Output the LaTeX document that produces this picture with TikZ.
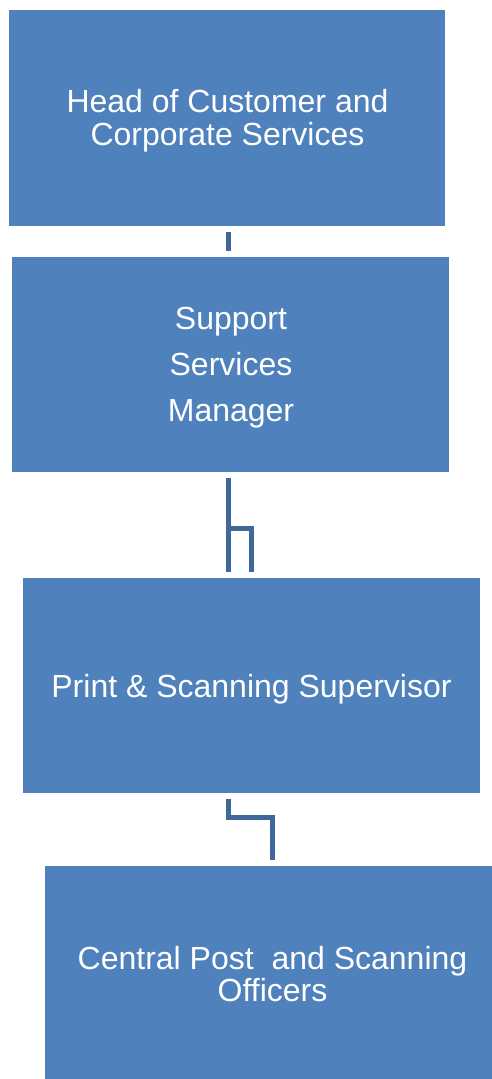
\documentclass[tikz,border=0pt]{standalone}
\usepackage{fontspec}
\setmainfont{Liberation Sans}
\usetikzlibrary{calc}
\definecolor{boxblue}{HTML}{4F81BD}
\definecolor{linkblue}{HTML}{41689A}
\tikzset{
  orgbox/.style={fill=boxblue, draw=none, inner sep=0pt},
  boxtext/.style={text=white, inner sep=0pt, align=center},
  link/.style={draw=linkblue, line width=5pt},
}
\begin{document}
\begin{tikzpicture}[x=1pt,y=-1pt]
\useasboundingbox (0,0) rectangle (492,1079);
\node[orgbox, minimum width=436pt, minimum height=216pt] (b1) at (227,118) {};
\node[orgbox, minimum width=437pt, minimum height=215pt] (b2) at (230.5,364.5) {};
\node[orgbox, minimum width=457pt, minimum height=215pt] (b3) at (251.5,685.5) {};
\node[orgbox, minimum width=447pt, minimum height=213pt] (b4) at (268.5,972.5) {};
\node[boxtext, font=\fontsize{32}{33}\selectfont] (t1) at ($(b1.center)+(0.5,3)$) {Head of Customer and\\Corporate Services};
\node[boxtext, font=\fontsize{32}{46}\selectfont] (t2) at ($(b2.center)+(0.5,3)$) {Support\\Services\\Manager};
\node[boxtext, font=\fontsize{32}{33}\selectfont] (t3) at ($(b3.center)+(0,3.5)$) {Print \& Scanning Supervisor};
\node[boxtext, font=\fontsize{32}{32}\selectfont] (t4) at ($(b4.center)+(4,2)$) {Central Post \ and Scanning\\Officers};
% connectors
\draw[link] ($(b1.south)+(1,6)$) -- ($(b2.north)+(-2.5,-6)$);
\draw[link] ($(b2.south)+(-2.5,6)$) -- ($(b3.north)+(-23.5,-6)$);
\draw[link] ($(b2.south)+(-2.5,56)$) -| ($(b3.north)+(-0.5,-6)$);
\draw[link] ($(b3.south)+(-23.5,6)$) -- ($(b3.south)+(-23.5,24)$) -| ($(b4.north)+(3.5,-6)$);
\end{tikzpicture}
\end{document}
